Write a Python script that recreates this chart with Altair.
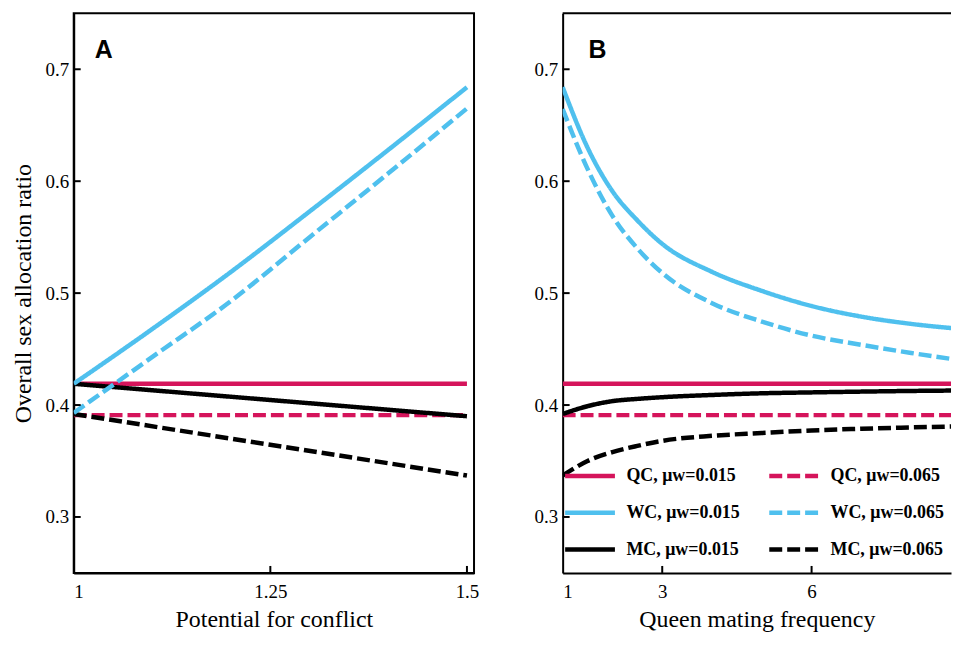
import altair as alt
import pandas as pd

# ---------------- data ----------------
# legend (grid is filled column by column): left column then right column
series_order = ["QC, μw=0.015", "WC, μw=0.015", "MC, μw=0.015",
                "QC, μw=0.065", "WC, μw=0.065", "MC, μw=0.065"]
series_colors = ["#D5145B", "#4FC0EE", "#000000", "#D5145B", "#4FC0EE", "#000000"]
series_dash = [[1, 0], [1, 0], [1, 0], [13, 5], [13, 5], [13, 5]]

# Panel A: potential for conflict
conflict_x_end = [1.0, 1.5]
conflict_x_wc = [1.0, 1.1, 1.2, 1.3, 1.4, 1.5]
A_qc015 = [0.419, 0.419]
A_qc065 = [0.391, 0.391]
A_mc015 = [0.419, 0.390]
A_mc065 = [0.392, 0.337]
A_wc015 = [0.419, 0.468, 0.519, 0.573, 0.628, 0.684]
A_wc065 = [0.393, 0.443, 0.493, 0.550, 0.607, 0.665]

# Panel B: queen mating frequency
mating_x_end = [1.0, 9.0]
mating_x = [1.0, 1.5, 2.0, 2.5, 3.0, 4.0, 5.0, 6.0, 7.0, 8.0, 9.0]
B_qc015 = [0.419, 0.419]
B_qc065 = [0.391, 0.391]
B_mc015 = [0.392, 0.399, 0.4035, 0.4055, 0.407, 0.409, 0.4105, 0.4113, 0.412, 0.4126, 0.413]
B_mc065 = [0.337, 0.350, 0.358, 0.3635, 0.368, 0.3725, 0.375, 0.3773, 0.3788, 0.380, 0.381]
B_wc015 = [0.684, 0.630, 0.591, 0.565, 0.544, 0.519, 0.502, 0.4885, 0.479, 0.4725, 0.468]
B_wc065 = [0.6645, 0.611, 0.569, 0.540, 0.518, 0.491, 0.4746, 0.462, 0.4538, 0.4465, 0.440]

y_ticks = [0.3, 0.4, 0.5, 0.6, 0.7]
A_x_ticks = [1, 1.25, 1.5]
B_x_ticks = [1, 3, 6]


def records(xs, ys, name):
    return [{"x": a, "y": b, "series": name} for a, b in zip(xs, ys)]


QC015, WC015, MC015, QC065, WC065, MC065 = series_order

# drawing order: pink under black under blue
dfA = pd.DataFrame(
    records(conflict_x_end, A_qc015, QC015)
    + records(conflict_x_end, A_qc065, QC065)
    + records(conflict_x_end, A_mc015, MC015)
    + records(conflict_x_end, A_mc065, MC065)
    + records(conflict_x_wc, A_wc015, WC015)
    + records(conflict_x_wc, A_wc065, WC065)
)
dfB = pd.DataFrame(
    records(mating_x_end, B_qc015, QC015)
    + records(mating_x_end, B_qc065, QC065)
    + records(mating_x, B_mc015, MC015)
    + records(mating_x, B_mc065, MC065)
    + records(mating_x, B_wc015, WC015)
    + records(mating_x, B_wc065, WC065)
)

# ---------------- layout ----------------
WA, WB, H = 402, 390, 562
TICK = 7
SERIF = "Liberation Serif"

legend = alt.Legend(
    title=None, orient="none", legendX=491, legendY=437, columns=2,
    symbolType="stroke", symbolSize=2500, symbolStrokeWidth=4.5,
    labelFont=SERIF, labelFontSize=18, labelFontWeight="bold", labelColor="black",
    labelOffset=9, columnPadding=20, rowPadding=-2, padding=0,
)

color = alt.Color("series:N", scale=alt.Scale(domain=series_order, range=series_colors), legend=legend)
dash = alt.StrokeDash("series:N", scale=alt.Scale(domain=series_order, range=series_dash), legend=legend)

yscale = alt.Scale(domain=[0.25, 0.75], nice=False, zero=False)
LABEL_EXPR = "'' + datum.value"


def panel(df, xdomain, xticks, xtitle, ytitle, letter, letter_dx, width, boxed):
    xscale = alt.Scale(domain=xdomain, nice=False, zero=False)
    xenc = alt.X("x:Q", scale=xscale,
                 axis=alt.Axis(values=xticks, labelExpr=LABEL_EXPR, title=xtitle, labelPadding=10,
                               titlePadding=6))
    yaxis = alt.Axis(values=y_ticks, labelExpr=LABEL_EXPR, labelPadding=5,
                     title=ytitle if ytitle else None, titlePadding=10)
    yenc = alt.Y("y:Q", scale=yscale, axis=yaxis)

    lines = alt.Chart(df).mark_line(strokeWidth=4.5, clip=True, strokeCap="butt",
                                    interpolate="monotone").encode(
        x=xenc, y=yenc, color=color, strokeDash=dash, detail="series:N"
    )
    ytick_rules = alt.Chart(pd.DataFrame({"y": y_ticks})).mark_rule(
        color="black", strokeWidth=2
    ).encode(x=alt.value(0), x2=alt.value(TICK), y=yenc)
    xtick_rules = alt.Chart(pd.DataFrame({"x": [v for v in xticks if v != xdomain[0]]})).mark_rule(
        color="black", strokeWidth=2
    ).encode(x=xenc, y=alt.value(H), y2=alt.value(H - TICK))
    label = alt.Chart(pd.DataFrame({"t": [letter]})).mark_text(
        font="Liberation Sans", fontSize=25, fontWeight="bold", align="left",
        baseline="alphabetic", color="black"
    ).encode(x=alt.value(letter_dx), y=alt.value(45), text="t:N")
    layers = [lines, ytick_rules, xtick_rules, label]
    if boxed:
        view = alt.ViewBackground(stroke="black", strokeWidth=2)
    else:
        top = alt.Chart(pd.DataFrame({"k": [0]})).mark_rule(color="black", strokeWidth=2).encode(
            x=alt.value(0), x2=alt.value(width), y=alt.value(0)
        )
        layers.append(top)
        view = alt.ViewBackground(strokeOpacity=0)
    return alt.layer(*layers).properties(width=width, height=H, view=view)


pA = panel(dfA, [1.0, 1.509], A_x_ticks, "Potential for conflict", "Overall sex allocation ratio",
           "A", 21, WA, True)
pB = panel(dfB, [1.0, 8.8], B_x_ticks, "Queen mating frequency", None, "B", 26, WB, False)

chart = alt.hconcat(pA, pB, spacing=54).properties(
    padding={"left": 2, "top": 3, "right": 0, "bottom": 0}
).configure_axis(
    labelFont=SERIF, labelFontSize=19, labelColor="black",
    titleFont=SERIF, titleFontSize=24, titleFontWeight="normal", titleColor="black",
    domainColor="black", domainWidth=2, ticks=False, grid=False,
).configure_view(stroke="black")

chart.save("out.html", embed_options={"renderer": "svg", "actions": False})
